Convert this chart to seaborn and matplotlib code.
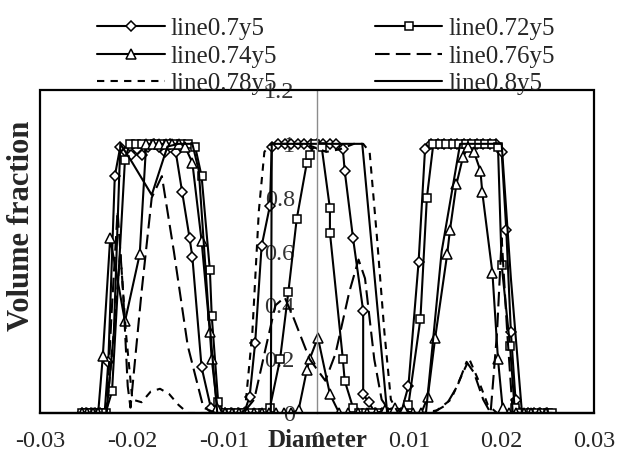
import matplotlib
matplotlib.use("Agg")
import matplotlib.pyplot as plt
from matplotlib.patches import Rectangle
import seaborn as sns

# Volume fraction profiles across the diameter for six sampling lines
x_07 = [-0.0255, -0.0250, -0.0245, -0.0240, -0.0235, -0.0230,
        -0.0226, -0.0219, -0.0213, -0.0207, -0.0201, -0.0195, -0.0189, -0.0183,
        -0.0177, -0.0171, -0.0165, -0.0159, -0.0153, -0.0146, -0.0138, -0.0135,
        -0.0125, -0.0115, -0.0107, -0.0100, -0.0093, -0.0086, -0.0079,
        -0.0073, -0.0067, -0.0060, -0.0051, -0.0049,
        -0.0042, -0.0035, -0.0028, -0.0021, -0.0014, -0.0007, 0.0000, 0.0007, 0.0014, 0.0021,
        0.0028, 0.0030, 0.0039, 0.0050, 0.0050, 0.0056,
        0.0063, 0.0070, 0.0077, 0.0084, 0.0091,
        0.0099, 0.0110, 0.0117,
        0.0124, 0.0131, 0.0138, 0.0145, 0.0152, 0.0159, 0.0166, 0.0173, 0.0180, 0.0187, 0.0194,
        0.0200, 0.0205, 0.0210, 0.0215,
        0.0221, 0.0228, 0.0235, 0.0242, 0.0249]
y_07 = [0, 0, 0, 0, 0, 0,
        0.19, 0.88, 0.99, 0.97, 0.96, 0.98, 0.96, 0.99,
        1.0, 0.99, 0.97, 1.0, 0.97, 0.82, 0.65, 0.58,
        0.17, 0.02, 0, 0, 0, 0, 0,
        0.06, 0.26, 0.62, 0.77, 0.99,
        1.0, 1.0, 1.0, 1.0, 1.0, 1.0, 1.0, 1.0, 1.0, 1.0,
        0.98, 0.90, 0.65, 0.38, 0.07, 0.04,
        0, 0, 0, 0, 0,
        0.10, 0.56, 0.98,
        1.0, 1.0, 1.0, 1.0, 1.0, 1.0, 1.0, 1.0, 1.0, 1.0, 1.0,
        0.97, 0.68, 0.30, 0.05,
        0, 0, 0, 0, 0]

x_072 = [-0.0255, -0.0250, -0.0245, -0.0240, -0.0235, -0.0229,
         -0.0222, -0.0208,
         -0.0203, -0.0196, -0.0189, -0.0182, -0.0175, -0.0168, -0.0161, -0.0154, -0.0147, -0.0140,
         -0.0132, -0.0125, -0.0116, -0.0114, -0.0107,
         -0.0100, -0.0093, -0.0086, -0.0079, -0.0072, -0.0065, -0.0058,
         -0.0051, -0.0040, -0.0031, -0.0022, -0.0011, -0.0008, -0.0002, 0.0005,
         0.0014, 0.0014, 0.0028, 0.0030, 0.0039,
         0.0046, 0.0053, 0.0060, 0.0067, 0.0074, 0.0081, 0.0088, 0.0094,
         0.0099, 0.0112, 0.0119,
         0.0126, 0.0133, 0.0140, 0.0147, 0.0154, 0.0161, 0.0168, 0.0175, 0.0182, 0.0189,
         0.0196, 0.0200, 0.0209, 0.0214,
         0.0220, 0.0226, 0.0232, 0.0238, 0.0244, 0.0250, 0.0255]
y_072 = [0, 0, 0, 0, 0, 0,
         0.08, 0.94,
         1.0, 1.0, 1.0, 1.0, 1.0, 1.0, 1.0, 1.0, 1.0, 1.0,
         0.99, 0.88, 0.53, 0.36, 0.04,
         0, 0, 0, 0, 0, 0, 0,
         0.02, 0.20, 0.45, 0.72, 0.93, 0.96, 1.0, 0.99,
         0.76, 0.67, 0.20, 0.12, 0.02,
         0, 0, 0, 0, 0, 0, 0, 0,
         0.03, 0.35, 0.80,
         1.0, 1.0, 1.0, 1.0, 1.0, 1.0, 1.0, 1.0, 1.0, 1.0,
         0.99, 0.55, 0.25, 0.02,
         0, 0, 0, 0, 0, 0, 0]

x_074 = [-0.0255, -0.0249, -0.0243, -0.0237,
         -0.0232, -0.0224, -0.0208, -0.0192,
         -0.0185, -0.0178, -0.0171, -0.0164, -0.0157, -0.0150,
         -0.0143, -0.0135, -0.0125, -0.0116, -0.0114, -0.0108,
         -0.0100, -0.0092, -0.0084, -0.0076, -0.0068, -0.0060, -0.0052, -0.0044, -0.0036, -0.0028,
         -0.0020, -0.0011, -0.0008, 0.0001, 0.0014,
         0.0024, 0.0034, 0.0044, 0.0054, 0.0064,
         0.0074, 0.0084, 0.0094, 0.0104, 0.0113,
         0.0120, 0.0128, 0.0141, 0.0144, 0.0151, 0.0158, 0.0164, 0.0170, 0.0177, 0.0179,
         0.0190, 0.0196, 0.0201,
         0.0208, 0.0216, 0.0224, 0.0232, 0.0240, 0.0248]
y_074 = [0, 0, 0, 0,
         0.21, 0.65, 0.34, 0.59,
         1.0, 1.0, 1.0, 1.0, 1.0, 1.0,
         0.99, 0.93, 0.64, 0.30, 0.20, 0.02,
         0, 0, 0, 0, 0, 0, 0, 0, 0, 0,
         0.01, 0.16, 0.20, 0.28, 0.07,
         0, 0, 0, 0, 0,
         0.01, 0.02, 0.01, 0, 0,
         0.06, 0.28, 0.59, 0.68, 0.85, 0.95, 0.99, 0.97, 0.90, 0.82,
         0.52, 0.20, 0.02,
         0, 0, 0, 0, 0, 0]

x_076 = [-0.0255, -0.0245, -0.0235, -0.0228,
         -0.0222, -0.0216, -0.0210, -0.0205, -0.0202,
         -0.0190, -0.0179, -0.0168, -0.0155, -0.0140, -0.0123,
         -0.0110, -0.0095, -0.0080,
         -0.0068, -0.0055, -0.0045, -0.0035, -0.0025, -0.0008, 0.0009,
         0.0020, 0.0035, 0.0045, 0.0052, 0.0062, 0.0070,
         0.0080, 0.0095, 0.0110, 0.0125,
         0.0140, 0.0152, 0.0162, 0.0170, 0.0180,
         0.0188, 0.0195, 0.0200, 0.0206,
         0.0212, 0.0225, 0.0240, 0.0255]
y_076 = [0, 0, 0, 0,
         0.40, 0.75, 0.45, 0.10, 0.02,
         0.45, 0.80, 0.88, 0.60, 0.25, 0.02,
         0, 0, 0,
         0.05, 0.25, 0.40, 0.43, 0.35, 0.20, 0.12,
         0.22, 0.45, 0.57, 0.50, 0.20, 0.05,
         0, 0, 0, 0,
         0.03, 0.10, 0.19, 0.15, 0.05,
         0, 0.30, 0.65, 0.30,
         0, 0, 0, 0]

x_078 = [-0.0255, -0.0240, -0.0228,
         -0.0220, -0.0213, -0.0207, -0.0200,
         -0.0190, -0.0180, -0.0170, -0.0160, -0.0150,
         -0.0140, -0.0125, -0.0110, -0.0095, -0.0085,
         -0.0078, -0.0070, -0.0063, -0.0057,
         -0.0050, -0.0035, -0.0020, -0.0005, 0.0010, 0.0025, 0.0040, 0.0050,
         0.0057, 0.0065, 0.0073, 0.0080,
         0.0088, 0.0100, 0.0115,
         0.0130, 0.0145, 0.0158, 0.0165, 0.0175, 0.0185,
         0.0195, 0.0210, 0.0225, 0.0240, 0.0255]
y_078 = [0, 0, 0,
         0.30, 0.60, 0.30, 0.05,
         0.04, 0.08, 0.09, 0.07, 0.03,
         0, 0, 0, 0, 0,
         0.01, 0.30, 0.75, 0.97,
         1.0, 1.0, 1.0, 0.99, 0.97, 0.98, 1.0, 1.0,
         0.97, 0.65, 0.30, 0.05,
         0, 0, 0,
         0.01, 0.05, 0.15, 0.20, 0.12, 0.03,
         0, 0, 0, 0, 0]

x_08 = [-0.0255, -0.0240, -0.0228,
        -0.0220, -0.0213, -0.0200, -0.0179, -0.0162, -0.0150, -0.0135,
        -0.0128, -0.0118,
        -0.0108, -0.0095, -0.0080, -0.0065, -0.0050,
        -0.0049, -0.0030, -0.0010, 0.0010, 0.0030, 0.0049,
        0.0076, 0.0090, 0.0105, 0.0118,
        0.0135, 0.0155, 0.0170, 0.0185, 0.0200,
        0.0210, 0.0222, 0.0240, 0.0255]
y_08 = [0, 0, 0,
        0.30, 1.0, 0.93, 0.81, 0.99, 1.0, 1.0,
        0.90, 0.40,
        0, 0, 0, 0, 0,
        1.0, 1.0, 1.0, 1.0, 1.0, 1.0,
        0, 0, 0, 0,
        0.60, 1.0, 1.0, 1.0, 1.0,
        0.50, 0, 0, 0]

series_names = ["line0.7y5", "line0.72y5", "line0.74y5",
                "line0.76y5", "line0.78y5", "line0.8y5"]
x_ticks = [-0.03, -0.02, -0.01, 0.0, 0.01, 0.02, 0.03]
x_tick_labels = ["-0.03", "-0.02", "-0.01", "0", "0.01", "0.02", "0.03"]
y_ticks = [0.0, 0.2, 0.4, 0.6, 0.8, 1.0, 1.2]
y_tick_labels = ["0", "0.2", "0.4", "0.6", "0.8", "1", "1.2"]

sns.set_style("white")
plt.rcParams["font.family"] = ["Liberation Serif", "DejaVu Serif"]

fig = plt.figure(figsize=(6.27, 4.55), dpi=100)
ax = fig.add_axes([40 / 627, 1 - 413 / 455, 554 / 627, 323 / 455])

marker_kw = dict(markerfacecolor="white", markeredgecolor="black", markeredgewidth=1.1)
styles = [
    dict(marker="D", markersize=5, **marker_kw),
    dict(marker="s", markersize=6, **marker_kw),
    dict(marker="^", markersize=6.5, **marker_kw),
    dict(linestyle=(0, (7, 3))),
    dict(linestyle=(0, (3.5, 3))),
    dict(),
]
data = [(x_07, y_07), (x_072, y_072), (x_074, y_074),
        (x_076, y_076), (x_078, y_078), (x_08, y_08)]

for name, (xs, ys), st in zip(series_names, data, styles):
    sns.lineplot(x=xs, y=ys, ax=ax, sort=False, estimator=None,
                 color="black", linewidth=1.5, label=name, **st)

ax.set_xlim(-0.03, 0.03)
ax.set_ylim(0, 1.2)

# plot-area frame
ax.add_patch(Rectangle((0, 0), 1, 1, transform=ax.transAxes, fill=False,
                       edgecolor="black", linewidth=1.6, zorder=5, clip_on=False))
for side in ["top", "right"]:
    ax.spines[side].set_visible(False)
ax.spines["bottom"].set_color("black")
ax.spines["bottom"].set_linewidth(1.6)
ax.spines["left"].set_position(("data", 0))
ax.spines["left"].set_color("#8c8c8c")
ax.spines["left"].set_linewidth(1.0)
ax.set_axisbelow(True)

ax.set_xticks(x_ticks)
ax.set_xticklabels(x_tick_labels)
ax.set_yticks(y_ticks)
ax.set_yticklabels(y_tick_labels)
ax.tick_params(axis="x", direction="out", length=6, width=1.5, color="black",
               labelsize=17.5, pad=7)
ax.tick_params(axis="y", direction="out", length=4, width=1.0, color="#8c8c8c",
               labelsize=17.5, pad=12, labelcolor="#333333")

ax.set_xlabel("Diameter", fontsize=18, fontweight="bold")
ax.xaxis.set_label_coords(0.5, -0.05)
ax.set_ylabel("Volume fraction", fontsize=22, fontweight="bold")
ax.yaxis.set_label_coords(-0.008, 0.58)

handles, labels = ax.get_legend_handles_labels()
order = [0, 2, 4, 1, 3, 5]
ax.legend([handles[i] for i in order], [labels[i] for i in order],
          ncol=2, loc="upper center", bbox_to_anchor=(0.52, 1.0),
          bbox_transform=fig.transFigure, frameon=False, fontsize=18,
          handlelength=2.7, handletextpad=0.25, columnspacing=3.9,
          labelspacing=0.2, borderpad=0.2)

fig.savefig("out.png", dpi=100)
